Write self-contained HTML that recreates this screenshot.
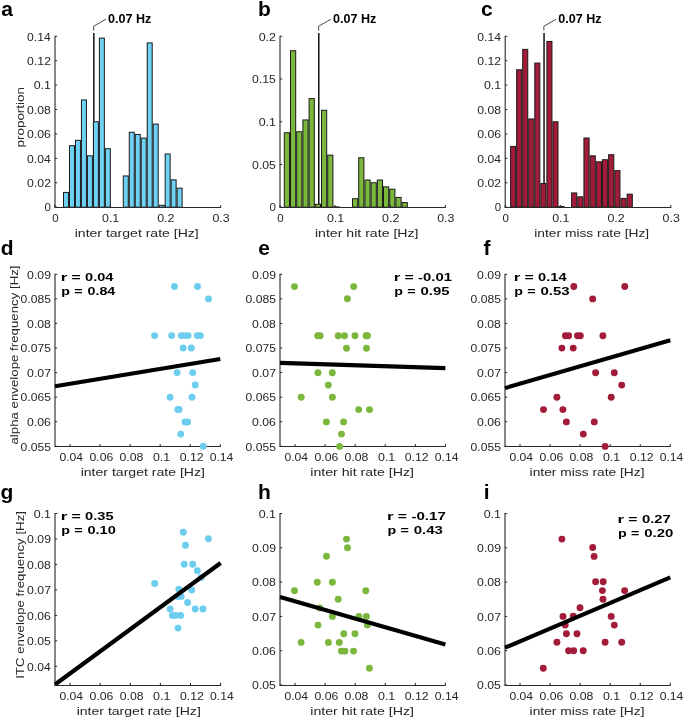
<!DOCTYPE html>
<html><head><meta charset="utf-8"><style>
html,body{margin:0;padding:0;background:#fff;}
svg{display:block;font-family:"Liberation Sans",sans-serif;will-change:transform;}
</style></head><body>
<svg width="685" height="719" viewBox="0 0 685 719">
<rect width="685" height="719" fill="#fff"/>
<line x1="93.84" y1="33.00" x2="93.84" y2="207.20" stroke="#111" stroke-width="1.5" stroke-linecap="butt"/>
<polyline points="93.64,30.6 93.64,26.3 105.94,19.2" fill="none" stroke="#333" stroke-width="0.9"/>
<text x="108.04" y="22.70" font-size="12.0" font-weight="bold" fill="#000" textLength="43.25" lengthAdjust="spacingAndGlyphs">0.07 Hz</text>
<rect x="63.50" y="192.44" width="4.98" height="14.76" fill="#6ed2f4" stroke="#1a1a1a" stroke-width="1"/>
<rect x="69.48" y="145.69" width="4.98" height="61.51" fill="#6ed2f4" stroke="#1a1a1a" stroke-width="1"/>
<rect x="75.46" y="140.32" width="4.98" height="66.88" fill="#6ed2f4" stroke="#1a1a1a" stroke-width="1"/>
<rect x="81.44" y="99.91" width="4.98" height="107.29" fill="#6ed2f4" stroke="#1a1a1a" stroke-width="1"/>
<rect x="87.42" y="155.82" width="4.98" height="51.38" fill="#6ed2f4" stroke="#1a1a1a" stroke-width="1"/>
<rect x="93.40" y="121.76" width="4.98" height="85.44" fill="#6ed2f4" stroke="#1a1a1a" stroke-width="1"/>
<rect x="99.38" y="38.14" width="4.98" height="169.06" fill="#6ed2f4" stroke="#1a1a1a" stroke-width="1"/>
<rect x="105.36" y="148.74" width="4.98" height="58.46" fill="#6ed2f4" stroke="#1a1a1a" stroke-width="1"/>
<rect x="123.30" y="175.96" width="4.98" height="31.24" fill="#6ed2f4" stroke="#1a1a1a" stroke-width="1"/>
<rect x="129.28" y="132.26" width="4.98" height="74.94" fill="#6ed2f4" stroke="#1a1a1a" stroke-width="1"/>
<rect x="135.26" y="134.46" width="4.98" height="72.74" fill="#6ed2f4" stroke="#1a1a1a" stroke-width="1"/>
<rect x="141.24" y="138.12" width="4.98" height="69.08" fill="#6ed2f4" stroke="#1a1a1a" stroke-width="1"/>
<rect x="147.22" y="42.90" width="4.98" height="164.30" fill="#6ed2f4" stroke="#1a1a1a" stroke-width="1"/>
<rect x="153.20" y="124.08" width="4.98" height="83.12" fill="#6ed2f4" stroke="#1a1a1a" stroke-width="1"/>
<rect x="159.18" y="205.26" width="4.98" height="1.94" fill="#6ed2f4" stroke="#1a1a1a" stroke-width="1"/>
<rect x="165.16" y="153.99" width="4.98" height="53.21" fill="#6ed2f4" stroke="#1a1a1a" stroke-width="1"/>
<rect x="171.14" y="179.87" width="4.98" height="27.33" fill="#6ed2f4" stroke="#1a1a1a" stroke-width="1"/>
<rect x="177.12" y="188.17" width="4.98" height="19.03" fill="#6ed2f4" stroke="#1a1a1a" stroke-width="1"/>
<line x1="54.50" y1="207.50" x2="221.10" y2="207.50" stroke="#2a2a2a" stroke-width="1" stroke-linecap="butt"/>
<line x1="55.00" y1="207.50" x2="55.00" y2="35.80" stroke="#111" stroke-width="1" stroke-linecap="butt"/>
<line x1="55.00" y1="207.20" x2="55.00" y2="205.00" stroke="#262626" stroke-width="1" stroke-linecap="butt"/>
<line x1="110.20" y1="207.20" x2="110.20" y2="205.00" stroke="#262626" stroke-width="1" stroke-linecap="butt"/>
<line x1="165.40" y1="207.20" x2="165.40" y2="205.00" stroke="#262626" stroke-width="1" stroke-linecap="butt"/>
<line x1="220.60" y1="207.20" x2="220.60" y2="205.00" stroke="#262626" stroke-width="1" stroke-linecap="butt"/>
<line x1="55.00" y1="207.20" x2="57.20" y2="207.20" stroke="#262626" stroke-width="1" stroke-linecap="butt"/>
<line x1="55.00" y1="182.79" x2="57.20" y2="182.79" stroke="#262626" stroke-width="1" stroke-linecap="butt"/>
<line x1="55.00" y1="158.37" x2="57.20" y2="158.37" stroke="#262626" stroke-width="1" stroke-linecap="butt"/>
<line x1="55.00" y1="133.96" x2="57.20" y2="133.96" stroke="#262626" stroke-width="1" stroke-linecap="butt"/>
<line x1="55.00" y1="109.54" x2="57.20" y2="109.54" stroke="#262626" stroke-width="1" stroke-linecap="butt"/>
<line x1="55.00" y1="85.13" x2="57.20" y2="85.13" stroke="#262626" stroke-width="1" stroke-linecap="butt"/>
<line x1="55.00" y1="60.71" x2="57.20" y2="60.71" stroke="#262626" stroke-width="1" stroke-linecap="butt"/>
<line x1="55.00" y1="36.30" x2="57.20" y2="36.30" stroke="#262626" stroke-width="1" stroke-linecap="butt"/>
<text x="52.20" y="222.20" font-size="11.3" font-weight="normal" fill="#262626" textLength="6.40" lengthAdjust="spacingAndGlyphs">0</text>
<text x="102.01" y="222.20" font-size="11.3" font-weight="normal" fill="#262626" textLength="17.29" lengthAdjust="spacingAndGlyphs">0.1</text>
<text x="157.21" y="222.20" font-size="11.3" font-weight="normal" fill="#262626" textLength="17.31" lengthAdjust="spacingAndGlyphs">0.2</text>
<text x="212.42" y="222.20" font-size="11.3" font-weight="normal" fill="#262626" textLength="17.23" lengthAdjust="spacingAndGlyphs">0.3</text>
<text x="44.45" y="211.45" font-size="11.3" font-weight="normal" fill="#262626" textLength="6.40" lengthAdjust="spacingAndGlyphs">0</text>
<text x="27.12" y="187.04" font-size="11.3" font-weight="normal" fill="#262626" textLength="23.90" lengthAdjust="spacingAndGlyphs">0.02</text>
<text x="27.13" y="162.62" font-size="11.3" font-weight="normal" fill="#262626" textLength="23.63" lengthAdjust="spacingAndGlyphs">0.04</text>
<text x="27.12" y="138.21" font-size="11.3" font-weight="normal" fill="#262626" textLength="23.82" lengthAdjust="spacingAndGlyphs">0.06</text>
<text x="27.12" y="113.79" font-size="11.3" font-weight="normal" fill="#262626" textLength="23.81" lengthAdjust="spacingAndGlyphs">0.08</text>
<text x="33.71" y="89.38" font-size="11.3" font-weight="normal" fill="#262626" textLength="17.29" lengthAdjust="spacingAndGlyphs">0.1</text>
<text x="27.12" y="64.96" font-size="11.3" font-weight="normal" fill="#262626" textLength="23.90" lengthAdjust="spacingAndGlyphs">0.12</text>
<text x="27.13" y="40.55" font-size="11.3" font-weight="normal" fill="#262626" textLength="23.63" lengthAdjust="spacingAndGlyphs">0.14</text>
<text x="74.76" y="237.20" font-size="11.5" font-weight="normal" fill="#262626" textLength="123.94" lengthAdjust="spacingAndGlyphs">inter target rate [Hz]</text>
<line x1="318.79" y1="33.00" x2="318.79" y2="207.20" stroke="#111" stroke-width="1.5" stroke-linecap="butt"/>
<polyline points="318.59,30.6 318.59,26.3 330.89,19.2" fill="none" stroke="#333" stroke-width="0.9"/>
<text x="333.00" y="22.70" font-size="12.0" font-weight="bold" fill="#000" textLength="43.25" lengthAdjust="spacingAndGlyphs">0.07 Hz</text>
<rect x="284.30" y="132.76" width="5.20" height="74.44" fill="#7ab73c" stroke="#1a1a1a" stroke-width="1"/>
<rect x="290.50" y="50.73" width="5.20" height="156.47" fill="#7ab73c" stroke="#1a1a1a" stroke-width="1"/>
<rect x="296.70" y="131.73" width="5.20" height="75.47" fill="#7ab73c" stroke="#1a1a1a" stroke-width="1"/>
<rect x="302.90" y="119.94" width="5.20" height="87.26" fill="#7ab73c" stroke="#1a1a1a" stroke-width="1"/>
<rect x="309.10" y="98.58" width="5.20" height="108.62" fill="#7ab73c" stroke="#1a1a1a" stroke-width="1"/>
<rect x="315.30" y="204.28" width="5.20" height="2.92" fill="#7ab73c" stroke="#1a1a1a" stroke-width="1"/>
<rect x="321.50" y="110.29" width="5.20" height="96.91" fill="#7ab73c" stroke="#1a1a1a" stroke-width="1"/>
<rect x="327.70" y="155.15" width="5.20" height="52.05" fill="#7ab73c" stroke="#1a1a1a" stroke-width="1"/>
<rect x="333.90" y="206.85" width="5.20" height="0.35" fill="#7ab73c" stroke="#1a1a1a" stroke-width="1"/>
<rect x="352.50" y="198.73" width="5.20" height="8.47" fill="#7ab73c" stroke="#1a1a1a" stroke-width="1"/>
<rect x="358.70" y="157.80" width="5.20" height="49.40" fill="#7ab73c" stroke="#1a1a1a" stroke-width="1"/>
<rect x="364.90" y="180.01" width="5.20" height="27.19" fill="#7ab73c" stroke="#1a1a1a" stroke-width="1"/>
<rect x="371.10" y="182.75" width="5.20" height="24.45" fill="#7ab73c" stroke="#1a1a1a" stroke-width="1"/>
<rect x="377.30" y="180.01" width="5.20" height="27.19" fill="#7ab73c" stroke="#1a1a1a" stroke-width="1"/>
<rect x="383.50" y="186.85" width="5.20" height="20.35" fill="#7ab73c" stroke="#1a1a1a" stroke-width="1"/>
<rect x="389.70" y="189.24" width="5.20" height="17.96" fill="#7ab73c" stroke="#1a1a1a" stroke-width="1"/>
<rect x="395.90" y="197.45" width="5.20" height="9.75" fill="#7ab73c" stroke="#1a1a1a" stroke-width="1"/>
<rect x="402.10" y="202.57" width="5.20" height="4.63" fill="#7ab73c" stroke="#1a1a1a" stroke-width="1"/>
<line x1="279.50" y1="207.50" x2="445.90" y2="207.50" stroke="#2a2a2a" stroke-width="1" stroke-linecap="butt"/>
<line x1="280.00" y1="207.50" x2="280.00" y2="35.80" stroke="#111" stroke-width="1" stroke-linecap="butt"/>
<line x1="280.00" y1="207.20" x2="280.00" y2="205.00" stroke="#262626" stroke-width="1" stroke-linecap="butt"/>
<line x1="335.13" y1="207.20" x2="335.13" y2="205.00" stroke="#262626" stroke-width="1" stroke-linecap="butt"/>
<line x1="390.27" y1="207.20" x2="390.27" y2="205.00" stroke="#262626" stroke-width="1" stroke-linecap="butt"/>
<line x1="445.40" y1="207.20" x2="445.40" y2="205.00" stroke="#262626" stroke-width="1" stroke-linecap="butt"/>
<line x1="280.00" y1="207.20" x2="282.20" y2="207.20" stroke="#262626" stroke-width="1" stroke-linecap="butt"/>
<line x1="280.00" y1="164.47" x2="282.20" y2="164.47" stroke="#262626" stroke-width="1" stroke-linecap="butt"/>
<line x1="280.00" y1="121.75" x2="282.20" y2="121.75" stroke="#262626" stroke-width="1" stroke-linecap="butt"/>
<line x1="280.00" y1="79.03" x2="282.20" y2="79.03" stroke="#262626" stroke-width="1" stroke-linecap="butt"/>
<line x1="280.00" y1="36.30" x2="282.20" y2="36.30" stroke="#262626" stroke-width="1" stroke-linecap="butt"/>
<text x="277.20" y="222.20" font-size="11.3" font-weight="normal" fill="#262626" textLength="6.40" lengthAdjust="spacingAndGlyphs">0</text>
<text x="326.95" y="222.20" font-size="11.3" font-weight="normal" fill="#262626" textLength="17.29" lengthAdjust="spacingAndGlyphs">0.1</text>
<text x="382.08" y="222.20" font-size="11.3" font-weight="normal" fill="#262626" textLength="17.31" lengthAdjust="spacingAndGlyphs">0.2</text>
<text x="437.22" y="222.20" font-size="11.3" font-weight="normal" fill="#262626" textLength="17.23" lengthAdjust="spacingAndGlyphs">0.3</text>
<text x="269.45" y="211.45" font-size="11.3" font-weight="normal" fill="#262626" textLength="6.40" lengthAdjust="spacingAndGlyphs">0</text>
<text x="252.12" y="168.72" font-size="11.3" font-weight="normal" fill="#262626" textLength="23.79" lengthAdjust="spacingAndGlyphs">0.05</text>
<text x="258.71" y="126.00" font-size="11.3" font-weight="normal" fill="#262626" textLength="17.29" lengthAdjust="spacingAndGlyphs">0.1</text>
<text x="252.12" y="83.28" font-size="11.3" font-weight="normal" fill="#262626" textLength="23.79" lengthAdjust="spacingAndGlyphs">0.15</text>
<text x="258.71" y="40.55" font-size="11.3" font-weight="normal" fill="#262626" textLength="17.31" lengthAdjust="spacingAndGlyphs">0.2</text>
<text x="314.96" y="237.20" font-size="11.5" font-weight="normal" fill="#262626" textLength="103.55" lengthAdjust="spacingAndGlyphs">inter hit rate [Hz]</text>
<line x1="544.04" y1="33.00" x2="544.04" y2="207.20" stroke="#111" stroke-width="1.5" stroke-linecap="butt"/>
<polyline points="543.84,30.6 543.84,26.3 556.14,19.2" fill="none" stroke="#333" stroke-width="0.9"/>
<text x="558.24" y="22.70" font-size="12.0" font-weight="bold" fill="#000" textLength="43.25" lengthAdjust="spacingAndGlyphs">0.07 Hz</text>
<rect x="510.60" y="146.42" width="5.05" height="60.78" fill="#a21c39" stroke="#1a1a1a" stroke-width="1"/>
<rect x="516.65" y="69.76" width="5.05" height="137.44" fill="#a21c39" stroke="#1a1a1a" stroke-width="1"/>
<rect x="522.70" y="49.37" width="5.05" height="157.83" fill="#a21c39" stroke="#1a1a1a" stroke-width="1"/>
<rect x="528.75" y="118.95" width="5.05" height="88.25" fill="#a21c39" stroke="#1a1a1a" stroke-width="1"/>
<rect x="534.80" y="63.05" width="5.05" height="144.15" fill="#a21c39" stroke="#1a1a1a" stroke-width="1"/>
<rect x="540.85" y="183.53" width="5.05" height="23.67" fill="#a21c39" stroke="#1a1a1a" stroke-width="1"/>
<rect x="546.90" y="41.44" width="5.05" height="165.76" fill="#a21c39" stroke="#1a1a1a" stroke-width="1"/>
<rect x="552.95" y="121.76" width="5.05" height="85.44" fill="#a21c39" stroke="#1a1a1a" stroke-width="1"/>
<rect x="559.00" y="206.48" width="5.05" height="0.72" fill="#a21c39" stroke="#1a1a1a" stroke-width="1"/>
<rect x="571.60" y="192.93" width="5.17" height="14.27" fill="#a21c39" stroke="#1a1a1a" stroke-width="1"/>
<rect x="577.77" y="196.84" width="5.17" height="10.36" fill="#a21c39" stroke="#1a1a1a" stroke-width="1"/>
<rect x="583.94" y="138.00" width="5.17" height="69.20" fill="#a21c39" stroke="#1a1a1a" stroke-width="1"/>
<rect x="590.11" y="155.82" width="5.17" height="51.38" fill="#a21c39" stroke="#1a1a1a" stroke-width="1"/>
<rect x="596.28" y="161.80" width="5.17" height="45.40" fill="#a21c39" stroke="#1a1a1a" stroke-width="1"/>
<rect x="602.45" y="159.73" width="5.17" height="47.47" fill="#a21c39" stroke="#1a1a1a" stroke-width="1"/>
<rect x="608.62" y="154.72" width="5.17" height="52.48" fill="#a21c39" stroke="#1a1a1a" stroke-width="1"/>
<rect x="614.79" y="170.59" width="5.17" height="36.61" fill="#a21c39" stroke="#1a1a1a" stroke-width="1"/>
<rect x="620.96" y="198.42" width="5.17" height="8.78" fill="#a21c39" stroke="#1a1a1a" stroke-width="1"/>
<rect x="627.13" y="194.15" width="5.17" height="13.05" fill="#a21c39" stroke="#1a1a1a" stroke-width="1"/>
<line x1="504.70" y1="207.50" x2="671.30" y2="207.50" stroke="#2a2a2a" stroke-width="1" stroke-linecap="butt"/>
<line x1="505.20" y1="207.50" x2="505.20" y2="35.80" stroke="#111" stroke-width="1" stroke-linecap="butt"/>
<line x1="505.20" y1="207.20" x2="505.20" y2="205.00" stroke="#262626" stroke-width="1" stroke-linecap="butt"/>
<line x1="560.40" y1="207.20" x2="560.40" y2="205.00" stroke="#262626" stroke-width="1" stroke-linecap="butt"/>
<line x1="615.60" y1="207.20" x2="615.60" y2="205.00" stroke="#262626" stroke-width="1" stroke-linecap="butt"/>
<line x1="670.80" y1="207.20" x2="670.80" y2="205.00" stroke="#262626" stroke-width="1" stroke-linecap="butt"/>
<line x1="505.20" y1="207.20" x2="507.40" y2="207.20" stroke="#262626" stroke-width="1" stroke-linecap="butt"/>
<line x1="505.20" y1="182.79" x2="507.40" y2="182.79" stroke="#262626" stroke-width="1" stroke-linecap="butt"/>
<line x1="505.20" y1="158.37" x2="507.40" y2="158.37" stroke="#262626" stroke-width="1" stroke-linecap="butt"/>
<line x1="505.20" y1="133.96" x2="507.40" y2="133.96" stroke="#262626" stroke-width="1" stroke-linecap="butt"/>
<line x1="505.20" y1="109.54" x2="507.40" y2="109.54" stroke="#262626" stroke-width="1" stroke-linecap="butt"/>
<line x1="505.20" y1="85.13" x2="507.40" y2="85.13" stroke="#262626" stroke-width="1" stroke-linecap="butt"/>
<line x1="505.20" y1="60.71" x2="507.40" y2="60.71" stroke="#262626" stroke-width="1" stroke-linecap="butt"/>
<line x1="505.20" y1="36.30" x2="507.40" y2="36.30" stroke="#262626" stroke-width="1" stroke-linecap="butt"/>
<text x="502.40" y="222.20" font-size="11.3" font-weight="normal" fill="#262626" textLength="6.40" lengthAdjust="spacingAndGlyphs">0</text>
<text x="552.21" y="222.20" font-size="11.3" font-weight="normal" fill="#262626" textLength="17.29" lengthAdjust="spacingAndGlyphs">0.1</text>
<text x="607.41" y="222.20" font-size="11.3" font-weight="normal" fill="#262626" textLength="17.31" lengthAdjust="spacingAndGlyphs">0.2</text>
<text x="662.62" y="222.20" font-size="11.3" font-weight="normal" fill="#262626" textLength="17.23" lengthAdjust="spacingAndGlyphs">0.3</text>
<text x="494.65" y="211.45" font-size="11.3" font-weight="normal" fill="#262626" textLength="6.40" lengthAdjust="spacingAndGlyphs">0</text>
<text x="477.32" y="187.04" font-size="11.3" font-weight="normal" fill="#262626" textLength="23.90" lengthAdjust="spacingAndGlyphs">0.02</text>
<text x="477.33" y="162.62" font-size="11.3" font-weight="normal" fill="#262626" textLength="23.63" lengthAdjust="spacingAndGlyphs">0.04</text>
<text x="477.32" y="138.21" font-size="11.3" font-weight="normal" fill="#262626" textLength="23.82" lengthAdjust="spacingAndGlyphs">0.06</text>
<text x="477.32" y="113.79" font-size="11.3" font-weight="normal" fill="#262626" textLength="23.81" lengthAdjust="spacingAndGlyphs">0.08</text>
<text x="483.91" y="89.38" font-size="11.3" font-weight="normal" fill="#262626" textLength="17.29" lengthAdjust="spacingAndGlyphs">0.1</text>
<text x="477.32" y="64.96" font-size="11.3" font-weight="normal" fill="#262626" textLength="23.90" lengthAdjust="spacingAndGlyphs">0.12</text>
<text x="477.33" y="40.55" font-size="11.3" font-weight="normal" fill="#262626" textLength="23.63" lengthAdjust="spacingAndGlyphs">0.14</text>
<text x="534.28" y="237.20" font-size="11.5" font-weight="normal" fill="#262626" textLength="114.90" lengthAdjust="spacingAndGlyphs">inter miss rate [Hz]</text>
<text x="0" y="0" transform="translate(24.30 147.57) rotate(-90)" font-size="11.5" font-weight="normal" fill="#262626" textLength="60.64" lengthAdjust="spacingAndGlyphs">proportion</text>
<text x="1.2" y="16.2" font-size="21.0" font-weight="bold" fill="#000">a</text>
<text x="257.9" y="16.1" font-size="21.0" font-weight="bold" fill="#000">b</text>
<text x="481.0" y="16.0" font-size="21.0" font-weight="bold" fill="#000">c</text>
<text x="0.8" y="254.7" font-size="21.0" font-weight="bold" fill="#000">d</text>
<text x="258.3" y="254.7" font-size="21.0" font-weight="bold" fill="#000">e</text>
<text x="483.5" y="254.7" font-size="21.0" font-weight="bold" fill="#000">f</text>
<text x="0.6" y="499.2" font-size="21.0" font-weight="bold" fill="#000">g</text>
<text x="258.0" y="499.2" font-size="21.0" font-weight="bold" fill="#000">h</text>
<text x="483.8" y="499.2" font-size="21.0" font-weight="bold" fill="#000">i</text>
<line x1="54.50" y1="446.50" x2="220.80" y2="446.50" stroke="#2a2a2a" stroke-width="1" stroke-linecap="butt"/>
<line x1="55.00" y1="446.50" x2="55.00" y2="273.80" stroke="#111" stroke-width="1" stroke-linecap="butt"/>
<line x1="70.03" y1="446.30" x2="70.03" y2="444.10" stroke="#262626" stroke-width="1" stroke-linecap="butt"/>
<line x1="100.08" y1="446.30" x2="100.08" y2="444.10" stroke="#262626" stroke-width="1" stroke-linecap="butt"/>
<line x1="130.14" y1="446.30" x2="130.14" y2="444.10" stroke="#262626" stroke-width="1" stroke-linecap="butt"/>
<line x1="160.19" y1="446.30" x2="160.19" y2="444.10" stroke="#262626" stroke-width="1" stroke-linecap="butt"/>
<line x1="190.25" y1="446.30" x2="190.25" y2="444.10" stroke="#262626" stroke-width="1" stroke-linecap="butt"/>
<line x1="220.30" y1="446.30" x2="220.30" y2="444.10" stroke="#262626" stroke-width="1" stroke-linecap="butt"/>
<line x1="55.00" y1="446.30" x2="57.20" y2="446.30" stroke="#262626" stroke-width="1" stroke-linecap="butt"/>
<line x1="55.00" y1="421.73" x2="57.20" y2="421.73" stroke="#262626" stroke-width="1" stroke-linecap="butt"/>
<line x1="55.00" y1="397.16" x2="57.20" y2="397.16" stroke="#262626" stroke-width="1" stroke-linecap="butt"/>
<line x1="55.00" y1="372.59" x2="57.20" y2="372.59" stroke="#262626" stroke-width="1" stroke-linecap="butt"/>
<line x1="55.00" y1="348.01" x2="57.20" y2="348.01" stroke="#262626" stroke-width="1" stroke-linecap="butt"/>
<line x1="55.00" y1="323.44" x2="57.20" y2="323.44" stroke="#262626" stroke-width="1" stroke-linecap="butt"/>
<line x1="55.00" y1="298.87" x2="57.20" y2="298.87" stroke="#262626" stroke-width="1" stroke-linecap="butt"/>
<line x1="55.00" y1="274.30" x2="57.20" y2="274.30" stroke="#262626" stroke-width="1" stroke-linecap="butt"/>
<circle cx="174.40" cy="286.50" r="3.45" fill="#6dcdef"/>
<circle cx="197.50" cy="286.50" r="3.45" fill="#6dcdef"/>
<circle cx="208.50" cy="298.90" r="3.45" fill="#6dcdef"/>
<circle cx="154.60" cy="335.60" r="3.45" fill="#6dcdef"/>
<circle cx="171.70" cy="335.60" r="3.45" fill="#6dcdef"/>
<circle cx="181.30" cy="335.60" r="3.45" fill="#6dcdef"/>
<circle cx="184.70" cy="335.60" r="3.45" fill="#6dcdef"/>
<circle cx="188.10" cy="335.60" r="3.45" fill="#6dcdef"/>
<circle cx="197.30" cy="335.60" r="3.45" fill="#6dcdef"/>
<circle cx="200.30" cy="335.60" r="3.45" fill="#6dcdef"/>
<circle cx="183.20" cy="348.00" r="3.45" fill="#6dcdef"/>
<circle cx="191.30" cy="348.00" r="3.45" fill="#6dcdef"/>
<circle cx="177.10" cy="372.60" r="3.45" fill="#6dcdef"/>
<circle cx="192.70" cy="372.60" r="3.45" fill="#6dcdef"/>
<circle cx="195.20" cy="385.00" r="3.45" fill="#6dcdef"/>
<circle cx="170.10" cy="397.30" r="3.45" fill="#6dcdef"/>
<circle cx="192.00" cy="397.30" r="3.45" fill="#6dcdef"/>
<circle cx="177.80" cy="409.50" r="3.45" fill="#6dcdef"/>
<circle cx="179.10" cy="409.50" r="3.45" fill="#6dcdef"/>
<circle cx="185.00" cy="422.00" r="3.45" fill="#6dcdef"/>
<circle cx="187.70" cy="422.00" r="3.45" fill="#6dcdef"/>
<circle cx="180.70" cy="434.10" r="3.45" fill="#6dcdef"/>
<circle cx="203.30" cy="446.20" r="3.45" fill="#6dcdef"/>
<line x1="55.00" y1="386.30" x2="220.30" y2="358.90" stroke="#000" stroke-width="4.1"/>
<text x="59.45" y="461.30" font-size="11.3" font-weight="normal" fill="#262626" textLength="23.63" lengthAdjust="spacingAndGlyphs">0.04</text>
<text x="89.50" y="461.30" font-size="11.3" font-weight="normal" fill="#262626" textLength="23.82" lengthAdjust="spacingAndGlyphs">0.06</text>
<text x="119.56" y="461.30" font-size="11.3" font-weight="normal" fill="#262626" textLength="23.81" lengthAdjust="spacingAndGlyphs">0.08</text>
<text x="152.90" y="461.30" font-size="11.3" font-weight="normal" fill="#262626" textLength="17.29" lengthAdjust="spacingAndGlyphs">0.1</text>
<text x="179.67" y="461.30" font-size="11.3" font-weight="normal" fill="#262626" textLength="23.90" lengthAdjust="spacingAndGlyphs">0.12</text>
<text x="209.73" y="461.30" font-size="11.3" font-weight="normal" fill="#262626" textLength="23.63" lengthAdjust="spacingAndGlyphs">0.14</text>
<text x="20.53" y="450.55" font-size="11.3" font-weight="normal" fill="#262626" textLength="30.38" lengthAdjust="spacingAndGlyphs">0.055</text>
<text x="27.12" y="425.98" font-size="11.3" font-weight="normal" fill="#262626" textLength="23.82" lengthAdjust="spacingAndGlyphs">0.06</text>
<text x="20.53" y="401.41" font-size="11.3" font-weight="normal" fill="#262626" textLength="30.38" lengthAdjust="spacingAndGlyphs">0.065</text>
<text x="27.12" y="376.84" font-size="11.3" font-weight="normal" fill="#262626" textLength="23.90" lengthAdjust="spacingAndGlyphs">0.07</text>
<text x="20.53" y="352.26" font-size="11.3" font-weight="normal" fill="#262626" textLength="30.38" lengthAdjust="spacingAndGlyphs">0.075</text>
<text x="27.12" y="327.69" font-size="11.3" font-weight="normal" fill="#262626" textLength="23.81" lengthAdjust="spacingAndGlyphs">0.08</text>
<text x="20.53" y="303.12" font-size="11.3" font-weight="normal" fill="#262626" textLength="30.38" lengthAdjust="spacingAndGlyphs">0.085</text>
<text x="27.12" y="278.55" font-size="11.3" font-weight="normal" fill="#262626" textLength="23.86" lengthAdjust="spacingAndGlyphs">0.09</text>
<text x="60.78" y="281.10" font-size="11.4" font-weight="bold" fill="#000" textLength="6.63" lengthAdjust="spacingAndGlyphs">r</text>
<text x="71.45" y="281.10" font-size="11.4" font-weight="bold" fill="#000" textLength="9.20" lengthAdjust="spacingAndGlyphs">=</text>
<text x="85.13" y="281.10" font-size="11.4" font-weight="bold" fill="#000" textLength="28.25" lengthAdjust="spacingAndGlyphs">0.04</text>
<text x="61.16" y="295.30" font-size="11.4" font-weight="bold" fill="#000" textLength="8.73" lengthAdjust="spacingAndGlyphs">p</text>
<text x="74.20" y="295.30" font-size="11.4" font-weight="bold" fill="#000" textLength="8.38" lengthAdjust="spacingAndGlyphs">=</text>
<text x="87.54" y="295.30" font-size="11.4" font-weight="bold" fill="#000" textLength="27.74" lengthAdjust="spacingAndGlyphs">0.84</text>
<text x="80.66" y="475.80" font-size="11.5" font-weight="normal" fill="#262626" textLength="124.24" lengthAdjust="spacingAndGlyphs">inter target rate [Hz]</text>
<line x1="279.50" y1="446.50" x2="445.90" y2="446.50" stroke="#2a2a2a" stroke-width="1" stroke-linecap="butt"/>
<line x1="280.00" y1="446.50" x2="280.00" y2="273.80" stroke="#111" stroke-width="1" stroke-linecap="butt"/>
<line x1="295.04" y1="446.30" x2="295.04" y2="444.10" stroke="#262626" stroke-width="1" stroke-linecap="butt"/>
<line x1="325.11" y1="446.30" x2="325.11" y2="444.10" stroke="#262626" stroke-width="1" stroke-linecap="butt"/>
<line x1="355.18" y1="446.30" x2="355.18" y2="444.10" stroke="#262626" stroke-width="1" stroke-linecap="butt"/>
<line x1="385.25" y1="446.30" x2="385.25" y2="444.10" stroke="#262626" stroke-width="1" stroke-linecap="butt"/>
<line x1="415.33" y1="446.30" x2="415.33" y2="444.10" stroke="#262626" stroke-width="1" stroke-linecap="butt"/>
<line x1="445.40" y1="446.30" x2="445.40" y2="444.10" stroke="#262626" stroke-width="1" stroke-linecap="butt"/>
<line x1="280.00" y1="446.30" x2="282.20" y2="446.30" stroke="#262626" stroke-width="1" stroke-linecap="butt"/>
<line x1="280.00" y1="421.73" x2="282.20" y2="421.73" stroke="#262626" stroke-width="1" stroke-linecap="butt"/>
<line x1="280.00" y1="397.16" x2="282.20" y2="397.16" stroke="#262626" stroke-width="1" stroke-linecap="butt"/>
<line x1="280.00" y1="372.59" x2="282.20" y2="372.59" stroke="#262626" stroke-width="1" stroke-linecap="butt"/>
<line x1="280.00" y1="348.01" x2="282.20" y2="348.01" stroke="#262626" stroke-width="1" stroke-linecap="butt"/>
<line x1="280.00" y1="323.44" x2="282.20" y2="323.44" stroke="#262626" stroke-width="1" stroke-linecap="butt"/>
<line x1="280.00" y1="298.87" x2="282.20" y2="298.87" stroke="#262626" stroke-width="1" stroke-linecap="butt"/>
<line x1="280.00" y1="274.30" x2="282.20" y2="274.30" stroke="#262626" stroke-width="1" stroke-linecap="butt"/>
<circle cx="294.50" cy="286.60" r="3.45" fill="#7ab73c"/>
<circle cx="353.70" cy="286.60" r="3.45" fill="#7ab73c"/>
<circle cx="347.40" cy="298.80" r="3.45" fill="#7ab73c"/>
<circle cx="317.70" cy="335.70" r="3.45" fill="#7ab73c"/>
<circle cx="320.10" cy="335.70" r="3.45" fill="#7ab73c"/>
<circle cx="338.20" cy="335.70" r="3.45" fill="#7ab73c"/>
<circle cx="344.50" cy="335.70" r="3.45" fill="#7ab73c"/>
<circle cx="355.00" cy="335.70" r="3.45" fill="#7ab73c"/>
<circle cx="366.10" cy="335.70" r="3.45" fill="#7ab73c"/>
<circle cx="367.50" cy="335.70" r="3.45" fill="#7ab73c"/>
<circle cx="346.50" cy="348.20" r="3.45" fill="#7ab73c"/>
<circle cx="366.50" cy="348.20" r="3.45" fill="#7ab73c"/>
<circle cx="318.00" cy="372.70" r="3.45" fill="#7ab73c"/>
<circle cx="332.30" cy="372.70" r="3.45" fill="#7ab73c"/>
<circle cx="328.30" cy="385.10" r="3.45" fill="#7ab73c"/>
<circle cx="301.20" cy="397.30" r="3.45" fill="#7ab73c"/>
<circle cx="332.40" cy="397.30" r="3.45" fill="#7ab73c"/>
<circle cx="358.70" cy="409.60" r="3.45" fill="#7ab73c"/>
<circle cx="369.50" cy="409.60" r="3.45" fill="#7ab73c"/>
<circle cx="326.40" cy="421.90" r="3.45" fill="#7ab73c"/>
<circle cx="343.60" cy="421.90" r="3.45" fill="#7ab73c"/>
<circle cx="341.50" cy="434.10" r="3.45" fill="#7ab73c"/>
<circle cx="339.60" cy="446.40" r="3.45" fill="#7ab73c"/>
<line x1="280.00" y1="362.90" x2="445.40" y2="368.10" stroke="#000" stroke-width="4.1"/>
<text x="284.46" y="461.30" font-size="11.3" font-weight="normal" fill="#262626" textLength="23.63" lengthAdjust="spacingAndGlyphs">0.04</text>
<text x="314.53" y="461.30" font-size="11.3" font-weight="normal" fill="#262626" textLength="23.82" lengthAdjust="spacingAndGlyphs">0.06</text>
<text x="344.60" y="461.30" font-size="11.3" font-weight="normal" fill="#262626" textLength="23.81" lengthAdjust="spacingAndGlyphs">0.08</text>
<text x="377.97" y="461.30" font-size="11.3" font-weight="normal" fill="#262626" textLength="17.29" lengthAdjust="spacingAndGlyphs">0.1</text>
<text x="404.75" y="461.30" font-size="11.3" font-weight="normal" fill="#262626" textLength="23.90" lengthAdjust="spacingAndGlyphs">0.12</text>
<text x="434.83" y="461.30" font-size="11.3" font-weight="normal" fill="#262626" textLength="23.63" lengthAdjust="spacingAndGlyphs">0.14</text>
<text x="245.53" y="450.55" font-size="11.3" font-weight="normal" fill="#262626" textLength="30.38" lengthAdjust="spacingAndGlyphs">0.055</text>
<text x="252.12" y="425.98" font-size="11.3" font-weight="normal" fill="#262626" textLength="23.82" lengthAdjust="spacingAndGlyphs">0.06</text>
<text x="245.53" y="401.41" font-size="11.3" font-weight="normal" fill="#262626" textLength="30.38" lengthAdjust="spacingAndGlyphs">0.065</text>
<text x="252.12" y="376.84" font-size="11.3" font-weight="normal" fill="#262626" textLength="23.90" lengthAdjust="spacingAndGlyphs">0.07</text>
<text x="245.53" y="352.26" font-size="11.3" font-weight="normal" fill="#262626" textLength="30.38" lengthAdjust="spacingAndGlyphs">0.075</text>
<text x="252.12" y="327.69" font-size="11.3" font-weight="normal" fill="#262626" textLength="23.81" lengthAdjust="spacingAndGlyphs">0.08</text>
<text x="245.53" y="303.12" font-size="11.3" font-weight="normal" fill="#262626" textLength="30.38" lengthAdjust="spacingAndGlyphs">0.085</text>
<text x="252.12" y="278.55" font-size="11.3" font-weight="normal" fill="#262626" textLength="23.86" lengthAdjust="spacingAndGlyphs">0.09</text>
<text x="393.78" y="281.10" font-size="11.4" font-weight="bold" fill="#000" textLength="6.63" lengthAdjust="spacingAndGlyphs">r</text>
<text x="404.45" y="281.10" font-size="11.4" font-weight="bold" fill="#000" textLength="9.20" lengthAdjust="spacingAndGlyphs">=</text>
<text x="418.12" y="281.10" font-size="11.4" font-weight="bold" fill="#000" textLength="33.79" lengthAdjust="spacingAndGlyphs">-0.01</text>
<text x="394.16" y="295.30" font-size="11.4" font-weight="bold" fill="#000" textLength="8.73" lengthAdjust="spacingAndGlyphs">p</text>
<text x="407.20" y="295.30" font-size="11.4" font-weight="bold" fill="#000" textLength="8.38" lengthAdjust="spacingAndGlyphs">=</text>
<text x="420.51" y="295.30" font-size="11.4" font-weight="bold" fill="#000" textLength="29.00" lengthAdjust="spacingAndGlyphs">0.95</text>
<text x="310.25" y="475.80" font-size="11.5" font-weight="normal" fill="#262626" textLength="103.75" lengthAdjust="spacingAndGlyphs">inter hit rate [Hz]</text>
<line x1="504.50" y1="446.50" x2="670.80" y2="446.50" stroke="#2a2a2a" stroke-width="1" stroke-linecap="butt"/>
<line x1="505.00" y1="446.50" x2="505.00" y2="273.80" stroke="#111" stroke-width="1" stroke-linecap="butt"/>
<line x1="520.03" y1="446.30" x2="520.03" y2="444.10" stroke="#262626" stroke-width="1" stroke-linecap="butt"/>
<line x1="550.08" y1="446.30" x2="550.08" y2="444.10" stroke="#262626" stroke-width="1" stroke-linecap="butt"/>
<line x1="580.14" y1="446.30" x2="580.14" y2="444.10" stroke="#262626" stroke-width="1" stroke-linecap="butt"/>
<line x1="610.19" y1="446.30" x2="610.19" y2="444.10" stroke="#262626" stroke-width="1" stroke-linecap="butt"/>
<line x1="640.25" y1="446.30" x2="640.25" y2="444.10" stroke="#262626" stroke-width="1" stroke-linecap="butt"/>
<line x1="670.30" y1="446.30" x2="670.30" y2="444.10" stroke="#262626" stroke-width="1" stroke-linecap="butt"/>
<line x1="505.00" y1="446.30" x2="507.20" y2="446.30" stroke="#262626" stroke-width="1" stroke-linecap="butt"/>
<line x1="505.00" y1="421.73" x2="507.20" y2="421.73" stroke="#262626" stroke-width="1" stroke-linecap="butt"/>
<line x1="505.00" y1="397.16" x2="507.20" y2="397.16" stroke="#262626" stroke-width="1" stroke-linecap="butt"/>
<line x1="505.00" y1="372.59" x2="507.20" y2="372.59" stroke="#262626" stroke-width="1" stroke-linecap="butt"/>
<line x1="505.00" y1="348.01" x2="507.20" y2="348.01" stroke="#262626" stroke-width="1" stroke-linecap="butt"/>
<line x1="505.00" y1="323.44" x2="507.20" y2="323.44" stroke="#262626" stroke-width="1" stroke-linecap="butt"/>
<line x1="505.00" y1="298.87" x2="507.20" y2="298.87" stroke="#262626" stroke-width="1" stroke-linecap="butt"/>
<line x1="505.00" y1="274.30" x2="507.20" y2="274.30" stroke="#262626" stroke-width="1" stroke-linecap="butt"/>
<circle cx="573.80" cy="286.50" r="3.45" fill="#a21c39"/>
<circle cx="624.80" cy="286.50" r="3.45" fill="#a21c39"/>
<circle cx="592.70" cy="298.90" r="3.45" fill="#a21c39"/>
<circle cx="565.40" cy="335.70" r="3.45" fill="#a21c39"/>
<circle cx="568.60" cy="335.70" r="3.45" fill="#a21c39"/>
<circle cx="577.50" cy="335.70" r="3.45" fill="#a21c39"/>
<circle cx="580.30" cy="335.70" r="3.45" fill="#a21c39"/>
<circle cx="602.90" cy="335.70" r="3.45" fill="#a21c39"/>
<circle cx="561.90" cy="348.10" r="3.45" fill="#a21c39"/>
<circle cx="573.20" cy="348.10" r="3.45" fill="#a21c39"/>
<circle cx="595.60" cy="372.70" r="3.45" fill="#a21c39"/>
<circle cx="614.30" cy="372.70" r="3.45" fill="#a21c39"/>
<circle cx="621.70" cy="385.10" r="3.45" fill="#a21c39"/>
<circle cx="556.90" cy="397.30" r="3.45" fill="#a21c39"/>
<circle cx="611.20" cy="397.30" r="3.45" fill="#a21c39"/>
<circle cx="543.50" cy="409.60" r="3.45" fill="#a21c39"/>
<circle cx="562.90" cy="409.60" r="3.45" fill="#a21c39"/>
<circle cx="566.40" cy="421.90" r="3.45" fill="#a21c39"/>
<circle cx="594.30" cy="421.90" r="3.45" fill="#a21c39"/>
<circle cx="583.30" cy="434.10" r="3.45" fill="#a21c39"/>
<circle cx="605.10" cy="446.40" r="3.45" fill="#a21c39"/>
<line x1="505.00" y1="388.10" x2="670.30" y2="340.30" stroke="#000" stroke-width="4.1"/>
<text x="509.45" y="461.30" font-size="11.3" font-weight="normal" fill="#262626" textLength="23.63" lengthAdjust="spacingAndGlyphs">0.04</text>
<text x="539.50" y="461.30" font-size="11.3" font-weight="normal" fill="#262626" textLength="23.82" lengthAdjust="spacingAndGlyphs">0.06</text>
<text x="569.56" y="461.30" font-size="11.3" font-weight="normal" fill="#262626" textLength="23.81" lengthAdjust="spacingAndGlyphs">0.08</text>
<text x="602.90" y="461.30" font-size="11.3" font-weight="normal" fill="#262626" textLength="17.29" lengthAdjust="spacingAndGlyphs">0.1</text>
<text x="629.67" y="461.30" font-size="11.3" font-weight="normal" fill="#262626" textLength="23.90" lengthAdjust="spacingAndGlyphs">0.12</text>
<text x="659.73" y="461.30" font-size="11.3" font-weight="normal" fill="#262626" textLength="23.63" lengthAdjust="spacingAndGlyphs">0.14</text>
<text x="470.53" y="450.55" font-size="11.3" font-weight="normal" fill="#262626" textLength="30.38" lengthAdjust="spacingAndGlyphs">0.055</text>
<text x="477.12" y="425.98" font-size="11.3" font-weight="normal" fill="#262626" textLength="23.82" lengthAdjust="spacingAndGlyphs">0.06</text>
<text x="470.53" y="401.41" font-size="11.3" font-weight="normal" fill="#262626" textLength="30.38" lengthAdjust="spacingAndGlyphs">0.065</text>
<text x="477.12" y="376.84" font-size="11.3" font-weight="normal" fill="#262626" textLength="23.90" lengthAdjust="spacingAndGlyphs">0.07</text>
<text x="470.53" y="352.26" font-size="11.3" font-weight="normal" fill="#262626" textLength="30.38" lengthAdjust="spacingAndGlyphs">0.075</text>
<text x="477.12" y="327.69" font-size="11.3" font-weight="normal" fill="#262626" textLength="23.81" lengthAdjust="spacingAndGlyphs">0.08</text>
<text x="470.53" y="303.12" font-size="11.3" font-weight="normal" fill="#262626" textLength="30.38" lengthAdjust="spacingAndGlyphs">0.085</text>
<text x="477.12" y="278.55" font-size="11.3" font-weight="normal" fill="#262626" textLength="23.86" lengthAdjust="spacingAndGlyphs">0.09</text>
<text x="513.78" y="281.10" font-size="11.4" font-weight="bold" fill="#000" textLength="6.63" lengthAdjust="spacingAndGlyphs">r</text>
<text x="524.45" y="281.10" font-size="11.4" font-weight="bold" fill="#000" textLength="9.20" lengthAdjust="spacingAndGlyphs">=</text>
<text x="538.12" y="281.10" font-size="11.4" font-weight="bold" fill="#000" textLength="28.46" lengthAdjust="spacingAndGlyphs">0.14</text>
<text x="514.16" y="295.30" font-size="11.4" font-weight="bold" fill="#000" textLength="8.73" lengthAdjust="spacingAndGlyphs">p</text>
<text x="527.20" y="295.30" font-size="11.4" font-weight="bold" fill="#000" textLength="8.38" lengthAdjust="spacingAndGlyphs">=</text>
<text x="540.51" y="295.30" font-size="11.4" font-weight="bold" fill="#000" textLength="29.13" lengthAdjust="spacingAndGlyphs">0.53</text>
<text x="529.58" y="475.80" font-size="11.5" font-weight="normal" fill="#262626" textLength="114.90" lengthAdjust="spacingAndGlyphs">inter miss rate [Hz]</text>
<text x="0" y="0" transform="translate(18.20 444.56) rotate(-90)" font-size="11.5" font-weight="normal" fill="#262626" textLength="179.11" lengthAdjust="spacingAndGlyphs">alpha envelope frequency [Hz]</text>
<line x1="54.50" y1="685.50" x2="221.10" y2="685.50" stroke="#2a2a2a" stroke-width="1" stroke-linecap="butt"/>
<line x1="55.00" y1="685.50" x2="55.00" y2="513.00" stroke="#111" stroke-width="1" stroke-linecap="butt"/>
<line x1="70.05" y1="685.00" x2="70.05" y2="682.80" stroke="#262626" stroke-width="1" stroke-linecap="butt"/>
<line x1="100.16" y1="685.00" x2="100.16" y2="682.80" stroke="#262626" stroke-width="1" stroke-linecap="butt"/>
<line x1="130.27" y1="685.00" x2="130.27" y2="682.80" stroke="#262626" stroke-width="1" stroke-linecap="butt"/>
<line x1="160.38" y1="685.00" x2="160.38" y2="682.80" stroke="#262626" stroke-width="1" stroke-linecap="butt"/>
<line x1="190.49" y1="685.00" x2="190.49" y2="682.80" stroke="#262626" stroke-width="1" stroke-linecap="butt"/>
<line x1="220.60" y1="685.00" x2="220.60" y2="682.80" stroke="#262626" stroke-width="1" stroke-linecap="butt"/>
<line x1="55.00" y1="666.30" x2="57.20" y2="666.30" stroke="#262626" stroke-width="1" stroke-linecap="butt"/>
<line x1="55.00" y1="640.83" x2="57.20" y2="640.83" stroke="#262626" stroke-width="1" stroke-linecap="butt"/>
<line x1="55.00" y1="615.37" x2="57.20" y2="615.37" stroke="#262626" stroke-width="1" stroke-linecap="butt"/>
<line x1="55.00" y1="589.90" x2="57.20" y2="589.90" stroke="#262626" stroke-width="1" stroke-linecap="butt"/>
<line x1="55.00" y1="564.43" x2="57.20" y2="564.43" stroke="#262626" stroke-width="1" stroke-linecap="butt"/>
<line x1="55.00" y1="538.97" x2="57.20" y2="538.97" stroke="#262626" stroke-width="1" stroke-linecap="butt"/>
<line x1="55.00" y1="513.50" x2="57.20" y2="513.50" stroke="#262626" stroke-width="1" stroke-linecap="butt"/>
<circle cx="183.30" cy="532.30" r="3.45" fill="#6dcdef"/>
<circle cx="208.40" cy="538.70" r="3.45" fill="#6dcdef"/>
<circle cx="185.50" cy="545.20" r="3.45" fill="#6dcdef"/>
<circle cx="184.20" cy="564.30" r="3.45" fill="#6dcdef"/>
<circle cx="192.70" cy="564.30" r="3.45" fill="#6dcdef"/>
<circle cx="197.30" cy="570.70" r="3.45" fill="#6dcdef"/>
<circle cx="201.10" cy="577.40" r="3.45" fill="#6dcdef"/>
<circle cx="154.70" cy="583.50" r="3.45" fill="#6dcdef"/>
<circle cx="178.90" cy="589.30" r="3.45" fill="#6dcdef"/>
<circle cx="191.70" cy="589.90" r="3.45" fill="#6dcdef"/>
<circle cx="177.70" cy="596.40" r="3.45" fill="#6dcdef"/>
<circle cx="181.20" cy="596.40" r="3.45" fill="#6dcdef"/>
<circle cx="187.60" cy="602.50" r="3.45" fill="#6dcdef"/>
<circle cx="170.10" cy="609.00" r="3.45" fill="#6dcdef"/>
<circle cx="195.20" cy="609.00" r="3.45" fill="#6dcdef"/>
<circle cx="203.00" cy="609.00" r="3.45" fill="#6dcdef"/>
<circle cx="172.40" cy="615.40" r="3.45" fill="#6dcdef"/>
<circle cx="175.40" cy="615.40" r="3.45" fill="#6dcdef"/>
<circle cx="180.60" cy="615.40" r="3.45" fill="#6dcdef"/>
<circle cx="178.00" cy="628.10" r="3.45" fill="#6dcdef"/>
<line x1="55.00" y1="684.50" x2="220.60" y2="563.00" stroke="#000" stroke-width="4.1"/>
<text x="59.48" y="700.00" font-size="11.3" font-weight="normal" fill="#262626" textLength="23.63" lengthAdjust="spacingAndGlyphs">0.04</text>
<text x="89.59" y="700.00" font-size="11.3" font-weight="normal" fill="#262626" textLength="23.82" lengthAdjust="spacingAndGlyphs">0.06</text>
<text x="119.69" y="700.00" font-size="11.3" font-weight="normal" fill="#262626" textLength="23.81" lengthAdjust="spacingAndGlyphs">0.08</text>
<text x="153.10" y="700.00" font-size="11.3" font-weight="normal" fill="#262626" textLength="17.29" lengthAdjust="spacingAndGlyphs">0.1</text>
<text x="179.91" y="700.00" font-size="11.3" font-weight="normal" fill="#262626" textLength="23.90" lengthAdjust="spacingAndGlyphs">0.12</text>
<text x="210.03" y="700.00" font-size="11.3" font-weight="normal" fill="#262626" textLength="23.63" lengthAdjust="spacingAndGlyphs">0.14</text>
<text x="27.13" y="670.55" font-size="11.3" font-weight="normal" fill="#262626" textLength="23.63" lengthAdjust="spacingAndGlyphs">0.04</text>
<text x="27.12" y="645.08" font-size="11.3" font-weight="normal" fill="#262626" textLength="23.79" lengthAdjust="spacingAndGlyphs">0.05</text>
<text x="27.12" y="619.62" font-size="11.3" font-weight="normal" fill="#262626" textLength="23.82" lengthAdjust="spacingAndGlyphs">0.06</text>
<text x="27.12" y="594.15" font-size="11.3" font-weight="normal" fill="#262626" textLength="23.90" lengthAdjust="spacingAndGlyphs">0.07</text>
<text x="27.12" y="568.68" font-size="11.3" font-weight="normal" fill="#262626" textLength="23.81" lengthAdjust="spacingAndGlyphs">0.08</text>
<text x="27.12" y="543.22" font-size="11.3" font-weight="normal" fill="#262626" textLength="23.86" lengthAdjust="spacingAndGlyphs">0.09</text>
<text x="33.71" y="517.75" font-size="11.3" font-weight="normal" fill="#262626" textLength="17.29" lengthAdjust="spacingAndGlyphs">0.1</text>
<text x="60.78" y="520.10" font-size="11.4" font-weight="bold" fill="#000" textLength="6.63" lengthAdjust="spacingAndGlyphs">r</text>
<text x="71.45" y="520.10" font-size="11.4" font-weight="bold" fill="#000" textLength="9.20" lengthAdjust="spacingAndGlyphs">=</text>
<text x="85.12" y="520.10" font-size="11.4" font-weight="bold" fill="#000" textLength="28.59" lengthAdjust="spacingAndGlyphs">0.35</text>
<text x="61.16" y="534.30" font-size="11.4" font-weight="bold" fill="#000" textLength="8.73" lengthAdjust="spacingAndGlyphs">p</text>
<text x="74.20" y="534.30" font-size="11.4" font-weight="bold" fill="#000" textLength="8.38" lengthAdjust="spacingAndGlyphs">=</text>
<text x="87.53" y="534.30" font-size="11.4" font-weight="bold" fill="#000" textLength="28.27" lengthAdjust="spacingAndGlyphs">0.10</text>
<text x="76.66" y="714.80" font-size="11.5" font-weight="normal" fill="#262626" textLength="124.14" lengthAdjust="spacingAndGlyphs">inter target rate [Hz]</text>
<line x1="279.50" y1="685.50" x2="445.90" y2="685.50" stroke="#2a2a2a" stroke-width="1" stroke-linecap="butt"/>
<line x1="280.00" y1="685.50" x2="280.00" y2="513.00" stroke="#111" stroke-width="1" stroke-linecap="butt"/>
<line x1="295.04" y1="685.00" x2="295.04" y2="682.80" stroke="#262626" stroke-width="1" stroke-linecap="butt"/>
<line x1="325.11" y1="685.00" x2="325.11" y2="682.80" stroke="#262626" stroke-width="1" stroke-linecap="butt"/>
<line x1="355.18" y1="685.00" x2="355.18" y2="682.80" stroke="#262626" stroke-width="1" stroke-linecap="butt"/>
<line x1="385.25" y1="685.00" x2="385.25" y2="682.80" stroke="#262626" stroke-width="1" stroke-linecap="butt"/>
<line x1="415.33" y1="685.00" x2="415.33" y2="682.80" stroke="#262626" stroke-width="1" stroke-linecap="butt"/>
<line x1="445.40" y1="685.00" x2="445.40" y2="682.80" stroke="#262626" stroke-width="1" stroke-linecap="butt"/>
<line x1="280.00" y1="685.00" x2="282.20" y2="685.00" stroke="#262626" stroke-width="1" stroke-linecap="butt"/>
<line x1="280.00" y1="650.70" x2="282.20" y2="650.70" stroke="#262626" stroke-width="1" stroke-linecap="butt"/>
<line x1="280.00" y1="616.40" x2="282.20" y2="616.40" stroke="#262626" stroke-width="1" stroke-linecap="butt"/>
<line x1="280.00" y1="582.10" x2="282.20" y2="582.10" stroke="#262626" stroke-width="1" stroke-linecap="butt"/>
<line x1="280.00" y1="547.80" x2="282.20" y2="547.80" stroke="#262626" stroke-width="1" stroke-linecap="butt"/>
<line x1="280.00" y1="513.50" x2="282.20" y2="513.50" stroke="#262626" stroke-width="1" stroke-linecap="butt"/>
<circle cx="346.50" cy="539.10" r="3.45" fill="#7ab73c"/>
<circle cx="347.50" cy="547.70" r="3.45" fill="#7ab73c"/>
<circle cx="326.50" cy="556.30" r="3.45" fill="#7ab73c"/>
<circle cx="317.30" cy="582.20" r="3.45" fill="#7ab73c"/>
<circle cx="332.40" cy="582.20" r="3.45" fill="#7ab73c"/>
<circle cx="294.50" cy="590.70" r="3.45" fill="#7ab73c"/>
<circle cx="365.80" cy="590.70" r="3.45" fill="#7ab73c"/>
<circle cx="338.20" cy="599.20" r="3.45" fill="#7ab73c"/>
<circle cx="319.70" cy="607.90" r="3.45" fill="#7ab73c"/>
<circle cx="332.40" cy="616.40" r="3.45" fill="#7ab73c"/>
<circle cx="358.90" cy="616.40" r="3.45" fill="#7ab73c"/>
<circle cx="366.40" cy="616.40" r="3.45" fill="#7ab73c"/>
<circle cx="318.00" cy="625.10" r="3.45" fill="#7ab73c"/>
<circle cx="367.40" cy="625.10" r="3.45" fill="#7ab73c"/>
<circle cx="343.80" cy="633.80" r="3.45" fill="#7ab73c"/>
<circle cx="355.00" cy="633.80" r="3.45" fill="#7ab73c"/>
<circle cx="301.10" cy="642.40" r="3.45" fill="#7ab73c"/>
<circle cx="328.40" cy="642.40" r="3.45" fill="#7ab73c"/>
<circle cx="339.30" cy="642.40" r="3.45" fill="#7ab73c"/>
<circle cx="341.30" cy="651.10" r="3.45" fill="#7ab73c"/>
<circle cx="345.00" cy="651.10" r="3.45" fill="#7ab73c"/>
<circle cx="353.50" cy="651.10" r="3.45" fill="#7ab73c"/>
<circle cx="369.40" cy="668.30" r="3.45" fill="#7ab73c"/>
<line x1="280.00" y1="597.00" x2="445.40" y2="644.50" stroke="#000" stroke-width="4.1"/>
<text x="284.46" y="700.00" font-size="11.3" font-weight="normal" fill="#262626" textLength="23.63" lengthAdjust="spacingAndGlyphs">0.04</text>
<text x="314.53" y="700.00" font-size="11.3" font-weight="normal" fill="#262626" textLength="23.82" lengthAdjust="spacingAndGlyphs">0.06</text>
<text x="344.60" y="700.00" font-size="11.3" font-weight="normal" fill="#262626" textLength="23.81" lengthAdjust="spacingAndGlyphs">0.08</text>
<text x="377.97" y="700.00" font-size="11.3" font-weight="normal" fill="#262626" textLength="17.29" lengthAdjust="spacingAndGlyphs">0.1</text>
<text x="404.75" y="700.00" font-size="11.3" font-weight="normal" fill="#262626" textLength="23.90" lengthAdjust="spacingAndGlyphs">0.12</text>
<text x="434.83" y="700.00" font-size="11.3" font-weight="normal" fill="#262626" textLength="23.63" lengthAdjust="spacingAndGlyphs">0.14</text>
<text x="252.12" y="689.25" font-size="11.3" font-weight="normal" fill="#262626" textLength="23.79" lengthAdjust="spacingAndGlyphs">0.05</text>
<text x="252.12" y="654.95" font-size="11.3" font-weight="normal" fill="#262626" textLength="23.82" lengthAdjust="spacingAndGlyphs">0.06</text>
<text x="252.12" y="620.65" font-size="11.3" font-weight="normal" fill="#262626" textLength="23.90" lengthAdjust="spacingAndGlyphs">0.07</text>
<text x="252.12" y="586.35" font-size="11.3" font-weight="normal" fill="#262626" textLength="23.81" lengthAdjust="spacingAndGlyphs">0.08</text>
<text x="252.12" y="552.05" font-size="11.3" font-weight="normal" fill="#262626" textLength="23.86" lengthAdjust="spacingAndGlyphs">0.09</text>
<text x="258.71" y="517.75" font-size="11.3" font-weight="normal" fill="#262626" textLength="17.29" lengthAdjust="spacingAndGlyphs">0.1</text>
<text x="387.08" y="520.10" font-size="11.4" font-weight="bold" fill="#000" textLength="6.63" lengthAdjust="spacingAndGlyphs">r</text>
<text x="397.75" y="520.10" font-size="11.4" font-weight="bold" fill="#000" textLength="9.20" lengthAdjust="spacingAndGlyphs">=</text>
<text x="411.41" y="520.10" font-size="11.4" font-weight="bold" fill="#000" textLength="34.45" lengthAdjust="spacingAndGlyphs">-0.17</text>
<text x="387.46" y="534.30" font-size="11.4" font-weight="bold" fill="#000" textLength="8.73" lengthAdjust="spacingAndGlyphs">p</text>
<text x="400.50" y="534.30" font-size="11.4" font-weight="bold" fill="#000" textLength="8.38" lengthAdjust="spacingAndGlyphs">=</text>
<text x="413.81" y="534.30" font-size="11.4" font-weight="bold" fill="#000" textLength="29.13" lengthAdjust="spacingAndGlyphs">0.43</text>
<text x="310.25" y="714.80" font-size="11.5" font-weight="normal" fill="#262626" textLength="103.75" lengthAdjust="spacingAndGlyphs">inter hit rate [Hz]</text>
<line x1="504.50" y1="685.50" x2="670.80" y2="685.50" stroke="#2a2a2a" stroke-width="1" stroke-linecap="butt"/>
<line x1="505.00" y1="685.50" x2="505.00" y2="513.00" stroke="#111" stroke-width="1" stroke-linecap="butt"/>
<line x1="520.03" y1="685.00" x2="520.03" y2="682.80" stroke="#262626" stroke-width="1" stroke-linecap="butt"/>
<line x1="550.08" y1="685.00" x2="550.08" y2="682.80" stroke="#262626" stroke-width="1" stroke-linecap="butt"/>
<line x1="580.14" y1="685.00" x2="580.14" y2="682.80" stroke="#262626" stroke-width="1" stroke-linecap="butt"/>
<line x1="610.19" y1="685.00" x2="610.19" y2="682.80" stroke="#262626" stroke-width="1" stroke-linecap="butt"/>
<line x1="640.25" y1="685.00" x2="640.25" y2="682.80" stroke="#262626" stroke-width="1" stroke-linecap="butt"/>
<line x1="670.30" y1="685.00" x2="670.30" y2="682.80" stroke="#262626" stroke-width="1" stroke-linecap="butt"/>
<line x1="505.00" y1="685.00" x2="507.20" y2="685.00" stroke="#262626" stroke-width="1" stroke-linecap="butt"/>
<line x1="505.00" y1="650.70" x2="507.20" y2="650.70" stroke="#262626" stroke-width="1" stroke-linecap="butt"/>
<line x1="505.00" y1="616.40" x2="507.20" y2="616.40" stroke="#262626" stroke-width="1" stroke-linecap="butt"/>
<line x1="505.00" y1="582.10" x2="507.20" y2="582.10" stroke="#262626" stroke-width="1" stroke-linecap="butt"/>
<line x1="505.00" y1="547.80" x2="507.20" y2="547.80" stroke="#262626" stroke-width="1" stroke-linecap="butt"/>
<line x1="505.00" y1="513.50" x2="507.20" y2="513.50" stroke="#262626" stroke-width="1" stroke-linecap="butt"/>
<circle cx="561.90" cy="539.10" r="3.45" fill="#a21c39"/>
<circle cx="592.70" cy="547.50" r="3.45" fill="#a21c39"/>
<circle cx="594.10" cy="556.40" r="3.45" fill="#a21c39"/>
<circle cx="595.60" cy="581.80" r="3.45" fill="#a21c39"/>
<circle cx="603.20" cy="581.80" r="3.45" fill="#a21c39"/>
<circle cx="602.40" cy="590.60" r="3.45" fill="#a21c39"/>
<circle cx="624.60" cy="590.60" r="3.45" fill="#a21c39"/>
<circle cx="603.00" cy="599.30" r="3.45" fill="#a21c39"/>
<circle cx="580.00" cy="607.80" r="3.45" fill="#a21c39"/>
<circle cx="563.00" cy="616.40" r="3.45" fill="#a21c39"/>
<circle cx="573.20" cy="616.10" r="3.45" fill="#a21c39"/>
<circle cx="611.20" cy="616.40" r="3.45" fill="#a21c39"/>
<circle cx="565.20" cy="625.10" r="3.45" fill="#a21c39"/>
<circle cx="614.30" cy="625.10" r="3.45" fill="#a21c39"/>
<circle cx="566.40" cy="633.70" r="3.45" fill="#a21c39"/>
<circle cx="577.00" cy="633.70" r="3.45" fill="#a21c39"/>
<circle cx="556.90" cy="642.30" r="3.45" fill="#a21c39"/>
<circle cx="605.10" cy="642.30" r="3.45" fill="#a21c39"/>
<circle cx="621.70" cy="642.30" r="3.45" fill="#a21c39"/>
<circle cx="568.60" cy="650.80" r="3.45" fill="#a21c39"/>
<circle cx="573.70" cy="650.80" r="3.45" fill="#a21c39"/>
<circle cx="583.20" cy="650.80" r="3.45" fill="#a21c39"/>
<circle cx="543.30" cy="668.20" r="3.45" fill="#a21c39"/>
<line x1="505.00" y1="647.70" x2="670.30" y2="577.30" stroke="#000" stroke-width="4.1"/>
<text x="509.45" y="700.00" font-size="11.3" font-weight="normal" fill="#262626" textLength="23.63" lengthAdjust="spacingAndGlyphs">0.04</text>
<text x="539.50" y="700.00" font-size="11.3" font-weight="normal" fill="#262626" textLength="23.82" lengthAdjust="spacingAndGlyphs">0.06</text>
<text x="569.56" y="700.00" font-size="11.3" font-weight="normal" fill="#262626" textLength="23.81" lengthAdjust="spacingAndGlyphs">0.08</text>
<text x="602.90" y="700.00" font-size="11.3" font-weight="normal" fill="#262626" textLength="17.29" lengthAdjust="spacingAndGlyphs">0.1</text>
<text x="629.67" y="700.00" font-size="11.3" font-weight="normal" fill="#262626" textLength="23.90" lengthAdjust="spacingAndGlyphs">0.12</text>
<text x="659.73" y="700.00" font-size="11.3" font-weight="normal" fill="#262626" textLength="23.63" lengthAdjust="spacingAndGlyphs">0.14</text>
<text x="477.12" y="689.25" font-size="11.3" font-weight="normal" fill="#262626" textLength="23.79" lengthAdjust="spacingAndGlyphs">0.05</text>
<text x="477.12" y="654.95" font-size="11.3" font-weight="normal" fill="#262626" textLength="23.82" lengthAdjust="spacingAndGlyphs">0.06</text>
<text x="477.12" y="620.65" font-size="11.3" font-weight="normal" fill="#262626" textLength="23.90" lengthAdjust="spacingAndGlyphs">0.07</text>
<text x="477.12" y="586.35" font-size="11.3" font-weight="normal" fill="#262626" textLength="23.81" lengthAdjust="spacingAndGlyphs">0.08</text>
<text x="477.12" y="552.05" font-size="11.3" font-weight="normal" fill="#262626" textLength="23.86" lengthAdjust="spacingAndGlyphs">0.09</text>
<text x="483.71" y="517.75" font-size="11.3" font-weight="normal" fill="#262626" textLength="17.29" lengthAdjust="spacingAndGlyphs">0.1</text>
<text x="617.58" y="523.40" font-size="11.4" font-weight="bold" fill="#000" textLength="6.63" lengthAdjust="spacingAndGlyphs">r</text>
<text x="628.25" y="523.40" font-size="11.4" font-weight="bold" fill="#000" textLength="9.20" lengthAdjust="spacingAndGlyphs">=</text>
<text x="641.91" y="523.40" font-size="11.4" font-weight="bold" fill="#000" textLength="28.84" lengthAdjust="spacingAndGlyphs">0.27</text>
<text x="617.96" y="537.40" font-size="11.4" font-weight="bold" fill="#000" textLength="8.73" lengthAdjust="spacingAndGlyphs">p</text>
<text x="631.00" y="537.40" font-size="11.4" font-weight="bold" fill="#000" textLength="8.38" lengthAdjust="spacingAndGlyphs">=</text>
<text x="644.31" y="537.40" font-size="11.4" font-weight="bold" fill="#000" textLength="29.00" lengthAdjust="spacingAndGlyphs">0.20</text>
<text x="529.58" y="714.80" font-size="11.5" font-weight="normal" fill="#262626" textLength="114.90" lengthAdjust="spacingAndGlyphs">inter miss rate [Hz]</text>
<text x="0" y="0" transform="translate(23.90 678.82) rotate(-90)" font-size="11.5" font-weight="normal" fill="#262626" textLength="167.77" lengthAdjust="spacingAndGlyphs">ITC envelope frequency [Hz]</text>
</svg>
</body></html>
